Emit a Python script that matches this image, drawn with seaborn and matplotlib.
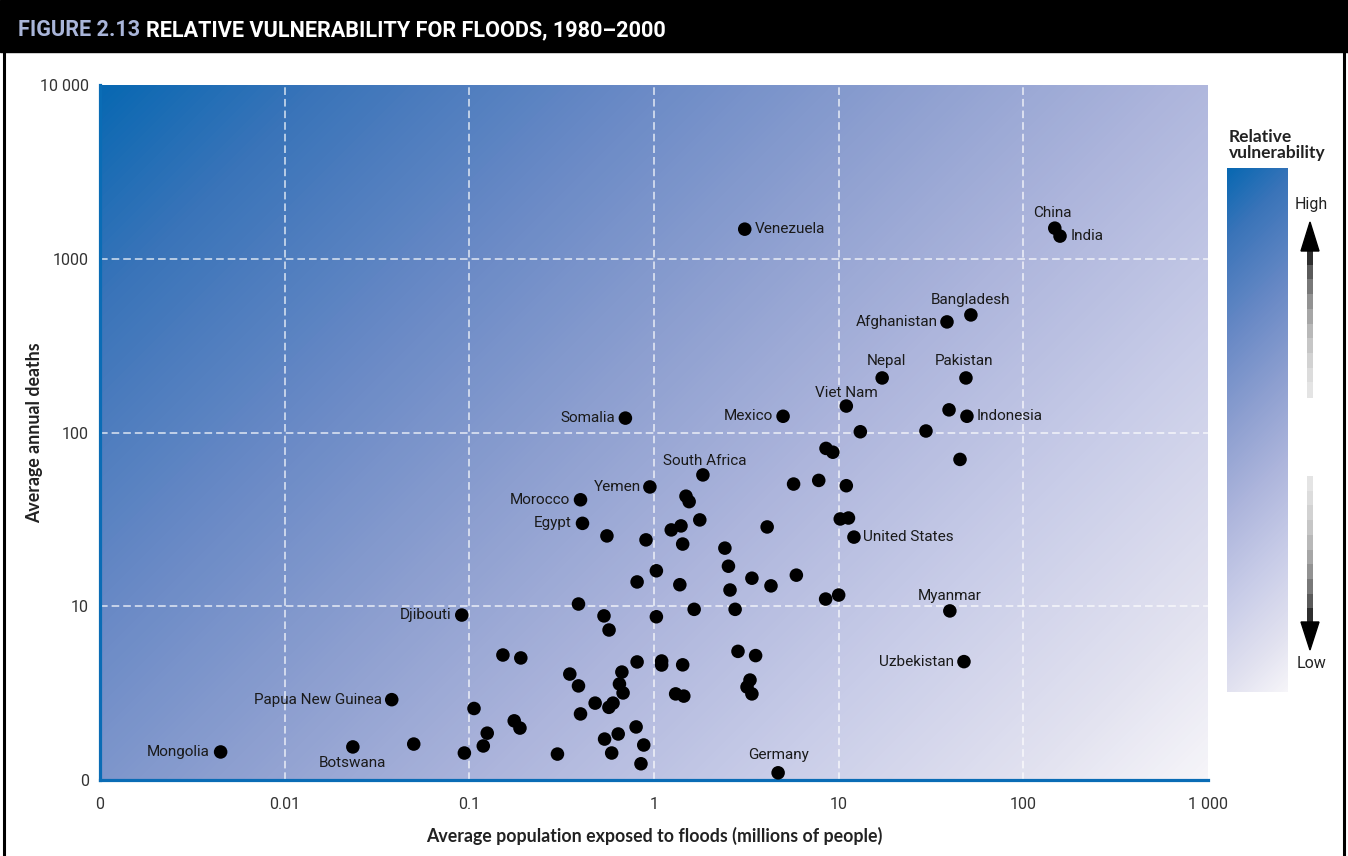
import numpy as np
import pandas as pd
import matplotlib
matplotlib.use("Agg")
import matplotlib.pyplot as plt
import seaborn as sns
from matplotlib.colors import LinearSegmentedColormap
from matplotlib.patches import Rectangle, Polygon
from matplotlib.ticker import FixedLocator, FixedFormatter, NullLocator

# ---------------- data ----------------
labeled_countries = ["China", "India", "Venezuela", "Bangladesh", "Afghanistan", "Nepal",
                     "Pakistan", "Viet Nam", "Mexico", "Somalia", "Indonesia", "South Africa",
                     "Yemen", "Morocco", "Egypt", "United States", "Djibouti", "Myanmar",
                     "Uzbekistan", "Papua New Guinea", "Mongolia", "Botswana", "Germany"]
labeled_pop = [148, 158, 3.1, 52, 38.6, 17.2, 48.9, 11.0, 5.0, 0.70, 49.5, 1.84,
               0.95, 0.40, 0.41, 12.1, 0.091, 40, 47.7, 0.038, 0.0045, 0.0234, 4.7]
labeled_deaths = [1500, 1350, 1480, 475, 433, 206, 206, 142, 124, 121, 124, 57,
                  48.6, 41, 30, 25, 8.9, 9.4, 4.8, 2.9, 1.45, 1.55, 1.10]

other_pop = [39.6, 13.1, 29.7, 8.54, 9.3, 45.4, 5.7, 7.8, 11.0, 10.2, 11.3, 5.9,
             1.49, 1.55, 1.77, 1.24, 1.40, 4.1, 0.556, 0.905, 1.43, 2.42, 2.53, 1.03,
             0.81, 1.38, 3.39, 4.3, 2.58, 0.39, 8.5, 10.0, 0.536, 1.03, 1.65, 2.75,
             0.571, 2.85, 3.55, 1.1, 1.1, 1.43, 0.81, 0.35, 0.39, 0.67, 0.65, 0.68,
             3.31, 3.19, 3.39, 1.31, 1.45, 0.48, 0.57, 0.60, 0.40, 0.80, 0.54, 0.64,
             0.88, 0.59, 0.30, 0.85, 0.152, 0.19, 0.106, 0.175, 0.188, 0.125, 0.119,
             0.094, 0.050]
other_deaths = [135, 101, 102, 81, 77, 70, 50.5, 53, 49.4, 31.8, 32.2, 15.1,
                43, 40, 31.4, 27.5, 29, 28.6, 25.4, 24.1, 22.8, 21.6, 17.0, 16.0,
                13.8, 13.3, 14.5, 13.1, 12.4, 10.3, 11.0, 11.6, 8.8, 8.7, 9.6, 9.6,
                7.3, 5.5, 5.2, 4.84, 4.59, 4.6, 4.78, 4.07, 3.48, 4.18, 3.57, 3.17,
                3.76, 3.43, 3.13, 3.13, 3.04, 2.77, 2.62, 2.77, 2.40, 2.02, 1.72, 1.84,
                1.59, 1.43, 1.41, 1.24, 5.24, 5.04, 2.58, 2.19, 1.99, 1.86, 1.57,
                1.43, 1.61]

x_ticks = [0.001, 0.01, 0.1, 1, 10, 100, 1000]
x_tick_labels = ["0", "0.01", "0.1", "1", "10", "100", "1 000"]
y_ticks = [1, 10, 100, 1000, 10000]
y_tick_labels = ["0", "10", "100", "1000", "10 000"]

title_prefix = "FIGURE 2.13"
title_text = "RELATIVE VULNERABILITY FOR FLOODS, 1980\u20132000"
x_label = "Average population exposed to floods (millions of people)"
y_label = "Average annual deaths"
legend_title = "Relative\nvulnerability"

# label placement (pixel offsets from point, alignment)
label_pos = {
    "China": (-2, 15, "center"), "India": (11, 0, "left"), "Venezuela": (10, 0, "left"),
    "Bangladesh": (0, 15, "center"), "Afghanistan": (-9, 0, "right"),
    "Nepal": (4, 17, "center"), "Pakistan": (-2, 17, "center"), "Viet Nam": (0, 13, "center"),
    "Mexico": (-10, 0, "right"), "Somalia": (-10, 0, "right"), "Indonesia": (10, 0, "left"),
    "South Africa": (2, 14, "center"), "Yemen": (-9, 0, "right"), "Morocco": (-11, 0, "right"),
    "Egypt": (-11, 0, "right"), "United States": (9, 0, "left"), "Djibouti": (-10, 0, "right"),
    "Myanmar": (0, 15, "center"), "Uzbekistan": (-10, 0, "right"),
    "Papua New Guinea": (-10, 0, "right"), "Mongolia": (-11, 0, "right"),
    "Botswana": (0, -16, "center"), "Germany": (0, 18, "center"),
}

# ---------------- style ----------------
sns.set_style("white")
plt.rcParams["font.family"] = ["Roboto", "DejaVu Sans"]
NARROW = ["Liberation Sans Narrow", "Roboto", "DejaVu Sans"]
BOLD = ["Lato", "Open Sans", "DejaVu Sans"]

cmap = LinearSegmentedColormap.from_list("vuln", [
    (0.0, "#0868b2"), (0.12, "#3a74b9"), (0.3, "#6a8ac6"), (0.45, "#8d9fd0"),
    (0.6, "#adb5dc"), (0.75, "#c8cce8"), (0.9, "#e2e2f0"), (1.0, "#f6f5f9")])

W, H = 1348, 856
fig = plt.figure(figsize=(W / 100, H / 100), dpi=100)
fig.patch.set_facecolor("white")

# plot area (pixels: x 100..1208, y 85..780)
L, R, T, B = 100, 1208, 85, 780
rect = [L / W, 1 - B / H, (R - L) / W, (B - T) / H]

bg = fig.add_axes(rect, zorder=0)
pw, ph = R - L, B - T
cc, rr = np.meshgrid(np.arange(pw), np.arange(ph))
bg.imshow((cc + rr) / (pw + ph - 2), cmap=cmap, aspect="auto", vmin=0, vmax=1,
          extent=(0, 1, 0, 1), interpolation="bilinear")
bg.set_axis_off()

ax = fig.add_axes(rect, zorder=2)
ax.patch.set_alpha(0)

df = pd.DataFrame({"pop": list(labeled_pop) + list(other_pop),
                   "deaths": list(labeled_deaths) + list(other_deaths)})
ax.set_xscale("log")
ax.set_yscale("log")
sns.scatterplot(data=df, x="pop", y="deaths", color="black", s=95, edgecolor="none",
                ax=ax, zorder=4, legend=False)
ax.set_xlim(x_ticks[0], x_ticks[-1])
ax.set_ylim(y_ticks[0], y_ticks[-1])

for v in x_ticks[1:-1]:
    ax.axvline(v, color="white", ls=(0, (5, 2.6)), lw=1.1, alpha=0.8, zorder=1)
for v in y_ticks[1:-1]:
    ax.axhline(v, color="white", ls=(0, (5, 2.6)), lw=1.1, alpha=0.8, zorder=1)

ax.xaxis.set_major_locator(FixedLocator(x_ticks))
ax.xaxis.set_major_formatter(FixedFormatter(x_tick_labels))
ax.yaxis.set_major_locator(FixedLocator(y_ticks))
ax.yaxis.set_major_formatter(FixedFormatter(y_tick_labels))
ax.xaxis.set_minor_locator(NullLocator())
ax.yaxis.set_minor_locator(NullLocator())
ax.tick_params(axis="both", length=0, labelsize=11.5, labelcolor="#333333")
ax.tick_params(axis="x", pad=12)
ax.tick_params(axis="y", pad=8)
for lab in ax.get_xticklabels() + ax.get_yticklabels():
    lab.set_family(NARROW)
for s in ["top", "right"]:
    ax.spines[s].set_visible(False)
for s in ["left", "bottom"]:
    ax.spines[s].set_color("#0a6cb5")
    ax.spines[s].set_linewidth(2.3)
ax.set_xlabel(x_label, fontsize=12.8, fontweight="bold", family=BOLD, color="#222222", labelpad=11)
ax.set_ylabel(y_label, fontsize=12.8, fontweight="bold", family=BOLD, color="#222222")
ax.yaxis.set_label_coords((35 - L) / (R - L), 0.5)
ax.yaxis.label.set_verticalalignment("center")

for name, xv, yv in zip(labeled_countries, labeled_pop, labeled_deaths):
    dx, dy, ha = label_pos[name]
    ax.annotate(name, (xv, yv), xytext=(dx, dy), textcoords="offset pixels",
                ha=ha, va="center", fontsize=11, color="#1a1a1a", family=["Roboto", "DejaVu Sans"],
                zorder=5)

# ---------------- decoration overlay (pixel coordinates) ----------------
deco = fig.add_axes([0, 0, 1, 1], zorder=1)
deco.set_xlim(0, W)
deco.set_ylim(H, 0)
deco.set_axis_off()

deco.add_patch(Rectangle((0, 0), W, 52, color="black", zorder=1))
deco.plot([4, 4], [0, H], color="black", lw=2.2)
deco.plot([1344, 1344], [0, H], color="black", lw=2.2)

t1 = deco.text(18, 30, title_prefix, color="#a9b5d9", fontsize=15.6, fontweight="bold",
               family=NARROW, va="center", ha="left", zorder=2)
fig.canvas.draw()
bb = t1.get_window_extent()
deco.text(bb.x1 + 6, 30, title_text, color="white", fontsize=15.6, fontweight="bold",
          family=NARROW, va="center", ha="left", zorder=2)

# legend: title, gradient bar, arrows
deco.text(1229, 145, legend_title, fontsize=12.5, fontweight="bold", family=BOLD,
          color="#222222", ha="left", va="center", linespacing=1.0)
lw_, lh_ = 61, 524
cc2, rr2 = np.meshgrid(np.arange(lw_), np.arange(lh_))
deco.imshow((cc2 + rr2) / (lw_ + lh_ - 2), cmap=cmap, vmin=0, vmax=1, aspect="auto",
            extent=(1227, 1227 + lw_, 168 + lh_, 168), interpolation="bilinear", zorder=1)
deco.set_xlim(0, W)
deco.set_ylim(H, 0)

ax_x = 1310
grays = ["#2e2e2e", "#5a5a5a", "#787878", "#929292", "#a6a6a6", "#b8b8b8",
         "#c6c6c6", "#d2d2d2", "#dcdcdc", "#e4e4e4"]
# up arrow (dark at top)
top, bot = 250, 397
seg = (bot - top) / len(grays)
for i, g in enumerate(grays):
    deco.add_patch(Rectangle((ax_x - 3, top + i * seg), 6, seg + 0.5, color=g, lw=0))
deco.add_patch(Polygon([[ax_x - 9, 251], [ax_x + 9, 251], [ax_x, 222]], color="black"))
deco.text(ax_x + 1, 204, "High", fontsize=11.5, family=["Roboto", "DejaVu Sans"],
          color="#222222", ha="center", va="center")
# down arrow (dark at bottom)
top, bot = 476, 623
seg = (bot - top) / len(grays)
for i, g in enumerate(grays[::-1]):
    deco.add_patch(Rectangle((ax_x - 3, top + i * seg), 6, seg + 0.5, color=g, lw=0))
deco.add_patch(Polygon([[ax_x - 9, 622], [ax_x + 9, 622], [ax_x, 650]], color="black"))
deco.text(ax_x + 1, 663, "Low", fontsize=11.5, family=["Roboto", "DejaVu Sans"],
          color="#222222", ha="center", va="center")

fig.savefig("out.png", dpi=100)
